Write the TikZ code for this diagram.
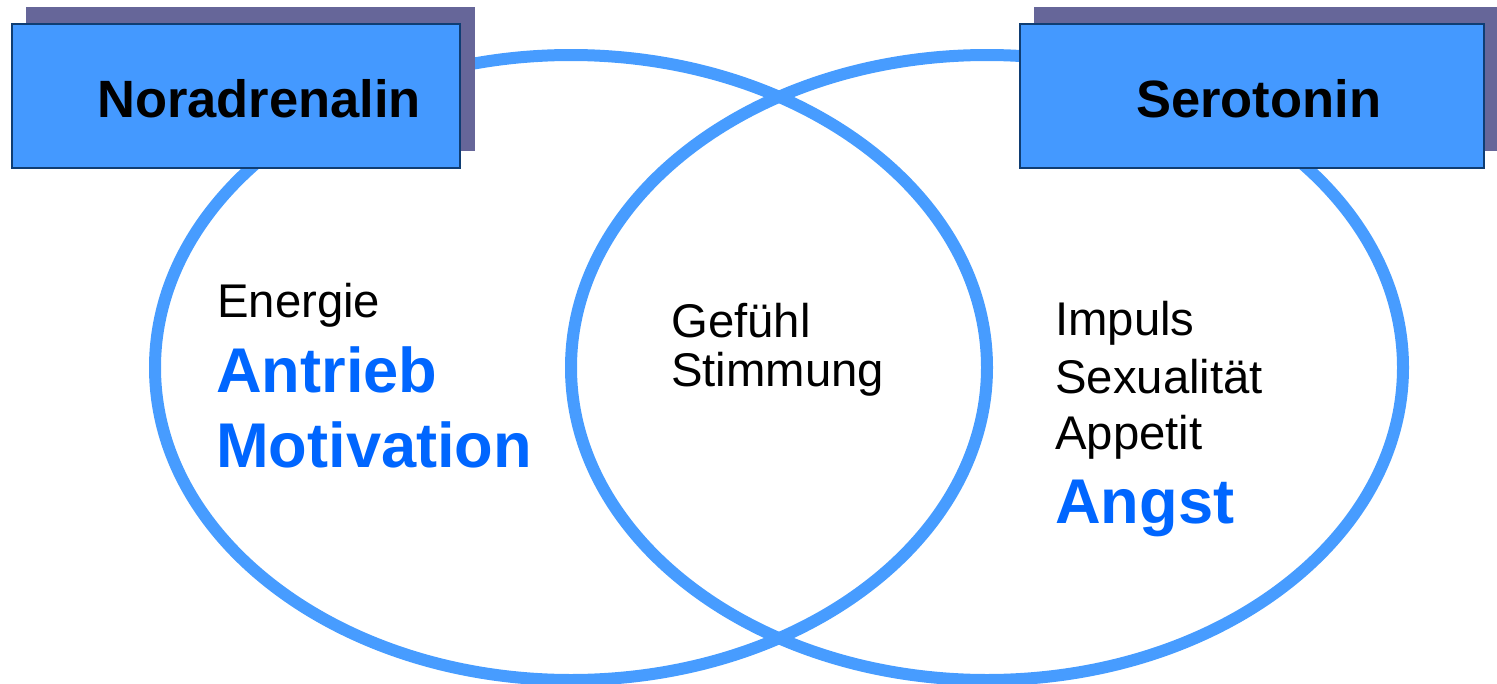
\documentclass[tikz,border=0pt]{standalone}
\usepackage{fontspec}
\setmainfont{Liberation Sans}
\definecolor{ringblue}{HTML}{479CFF}
\definecolor{boxblue}{HTML}{4499FF}
\definecolor{shadowc}{HTML}{666699}
\definecolor{borderc}{HTML}{0F3D73}
\definecolor{textblue}{HTML}{0066FF}
\tikzset{
  ring/.style={draw=ringblue, line width=12pt},
  shadowbox/.style={fill=shadowc, draw=none},
  labelbox/.style={fill=boxblue, draw=borderc, line width=2.2pt},
  boxtext/.style={anchor=base west, inner sep=0pt, font=\fontsize{52.5pt}{60pt}\selectfont\bfseries},
  plain/.style={anchor=base west, inner sep=0pt, font=\fontsize{47.3pt}{52pt}\selectfont},
  strong/.style={anchor=base west, inner sep=0pt, text=textblue, font=\fontsize{63.2pt}{70pt}\selectfont\bfseries}
}
\begin{document}
\begin{tikzpicture}[x=1pt,y=-1pt]
\useasboundingbox (0,0) rectangle (1497,683);
% ellipses
\draw[ring] (571,367.5) ellipse [x radius=416, y radius=312.5];
\draw[ring] (987,367.5) ellipse [x radius=416, y radius=312.5];
% left box
\fill[shadowbox] (26,7) rectangle (475,151);
\node[labelbox, minimum width=448pt, minimum height=144pt, anchor=north west, inner sep=0pt] (nbox) at (10.5,22.5) {};
\node[boxtext] (ntext) at (97,117) {Noradrenalin};
% right box
\fill[shadowbox] (1034,7) rectangle (1497,151);
\node[labelbox, minimum width=464pt, minimum height=144pt, anchor=north west, inner sep=0pt] (sbox) at (1018.5,22.5) {};
\node[boxtext] (stext) at (1136,117) {Serotonin};
% left contents
\node[plain] (energie) at (217,317) {Energie};
\node[strong] (antrieb) at (216,392) {Antrieb};
\node[strong] (motiv) at (216,467) {Motivation};
% middle
\node[plain] (gefuehl) at (671,337) {Gefühl};
\node[plain] (stimmung) at (671,386) {Stimmung};
% right contents
\node[plain] (impuls) at (1055,335) {Impuls};
\node[plain] (sexual) at (1055,393) {Sexualität};
\node[plain] (appetit) at (1055,449) {Appetit};
\node[strong] (angst) at (1055,523) {Angst};
\end{tikzpicture}
\end{document}
